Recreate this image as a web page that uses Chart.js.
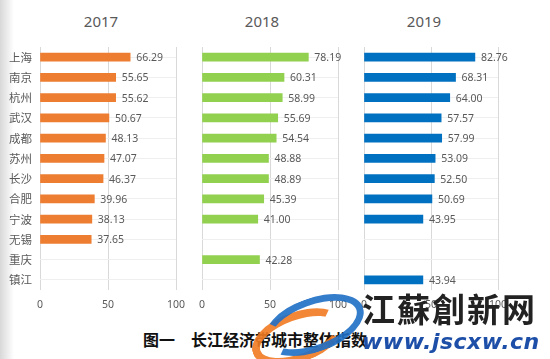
<!DOCTYPE html>
<html lang="zh">
  <head>
    <meta charset="UTF-8" />
    <title>长江经济带城市整体指数</title>
    <script src="https://cdn.jsdelivr.net/npm/chart.js"></script>
    <style>
      html, body { margin: 0; padding: 0; background: #fff; }
      body { width: 550px; height: 359px; position: relative; overflow: hidden;
        font-family: "Noto Sans", "Noto Sans CJK SC", sans-serif; }
      .shade { position: absolute; left: 0; top: 0; width: 14px; height: 359px;
        background: linear-gradient(to right, #d8d8d8, rgba(255,255,255,0)); }
      .panel { position: absolute; top: 0; height: 320px; }
      .year { position: absolute; top: 11px; font-size: 15px; color: #595959;
        transform: translateX(-50%); }
      .caption { position: absolute; left: 143px; top: 327px; font-size: 16px;
        font-weight: bold; color: #111; font-family: "Noto Sans CJK SC", sans-serif; }
      .wm1 { position: absolute; left: 362px; top: 284px; font-size: 33px; font-weight: bold;
        color: #222; letter-spacing: 2px; font-family: "Noto Sans CJK TC", sans-serif; }
      .wm2 { position: absolute; left: 362px; top: 329px; font-size: 22px; font-weight: bold;
        font-style: italic; color: #1d4fa8; font-family: "DejaVu Sans", sans-serif; letter-spacing: 0.5px; }
      .logo { position: absolute; left: 262px; top: 298px; width: 90px; height: 40px;
        border-radius: 50%; border: 7px solid #1f6fc6; border-left-color: transparent;
        transform: rotate(-20deg); opacity: 0.9; }
      .logo2 { position: absolute; left: 250px; top: 312px; width: 80px; height: 34px;
        border-radius: 50%; border: 8px solid #f07a22; border-right-color: transparent;
        transform: rotate(-20deg); opacity: 0.9; }
    </style>
  </head>
  <body>
    <div class="shade"></div>
    <div class="year" style="left: 101px">2017</div>
    <div class="year" style="left: 262px">2018</div>
    <div class="year" style="left: 424px">2019</div>
    <canvas id="c2017" class="panel" style="left: 0px" width="200" height="320"></canvas>
    <canvas id="c2018" class="panel" style="left: 190px" width="180" height="320"></canvas>
    <canvas id="c2019" class="panel" style="left: 352px" width="198" height="320"></canvas>
    <div class="caption">图一　长江经济带城市整体指数</div>
    <div class="logo2"></div>
    <div class="logo"></div>
    <div class="wm1">江蘇創新网</div>
    <div class="wm2">www.jscxw.cn</div>

    <script>
      const cities = ["上海", "南京", "杭州", "武汉", "成都", "苏州", "长沙", "合肥", "宁波", "无锡", "重庆", "镇江"];
      const values2017 = [66.29, 55.65, 55.62, 50.67, 48.13, 47.07, 46.37, 39.96, 38.13, 37.65, null, null];
      const values2018 = [78.19, 60.31, 58.99, 55.69, 54.54, 48.88, 48.89, 45.39, 41.0, null, 42.28, null];
      const values2019 = [82.76, 68.31, 64.0, 57.57, 57.99, 53.09, 52.5, 50.69, 43.95, null, null, 43.94];
      const xTicks = [0, 50, 100];

      const gray = "#595959";

      // value labels to the right of each bar
      const barLabels = {
        id: "barLabels",
        afterDatasetsDraw(chart) {
          const ctx = chart.ctx;
          const ds = chart.data.datasets[0];
          ctx.save();
          ctx.font = "10.5px 'Noto Sans', sans-serif";
          ctx.fillStyle = gray;
          ctx.textBaseline = "middle";
          chart.getDatasetMeta(0).data.forEach((bar, i) => {
            const v = ds.data[i];
            if (v == null) return;
            ctx.fillText(v.toFixed(2), bar.x + 6, bar.y + 1);
          });
          ctx.restore();
        },
      };

      function makePanel(id, values, color, showLabels, padLeft, padRight) {
        new Chart(document.getElementById(id), {
          type: "bar",
          data: {
            labels: cities,
            datasets: [{ data: values, backgroundColor: color, barThickness: 8 }],
          },
          options: {
            indexAxis: "y",
            responsive: false,
            animation: false,
            layout: { padding: { top: 47, bottom: 0, left: padLeft, right: padRight } },
            plugins: { legend: { display: false }, tooltip: { enabled: false } },
            scales: {
              x: {
                min: 0,
                max: 100,
                afterBuildTicks: (axis) => { axis.ticks = xTicks.map((v) => ({ value: v })); },
                afterFit: (axis) => { axis.height = 30; },
                border: { display: false },
                grid: { color: "#d9d9d9", drawTicks: false },
                ticks: { color: gray, padding: 9, font: { size: 10.5, family: "'Noto Sans', sans-serif" } },
              },
              y: {
                afterFit: (axis) => { axis.width = showLabels ? 40 : 0; },
                border: { display: false },
                grid: { color: "#efefef", offset: false, drawTicks: false },
                ticks: {
                  display: showLabels,
                  color: gray,
                  padding: 8,
                  font: { size: 11.5, family: "'Noto Sans CJK SC', sans-serif" },
                },
              },
            },
          },
          plugins: [barLabels],
        });
      }

      makePanel("c2017", values2017, "#ED7D31", true, 0, 24);
      makePanel("c2018", values2018, "#92D050", false, 11, 32);
      makePanel("c2019", values2019, "#0070C0", false, 10, 52);
    </script>
  </body>
</html>
